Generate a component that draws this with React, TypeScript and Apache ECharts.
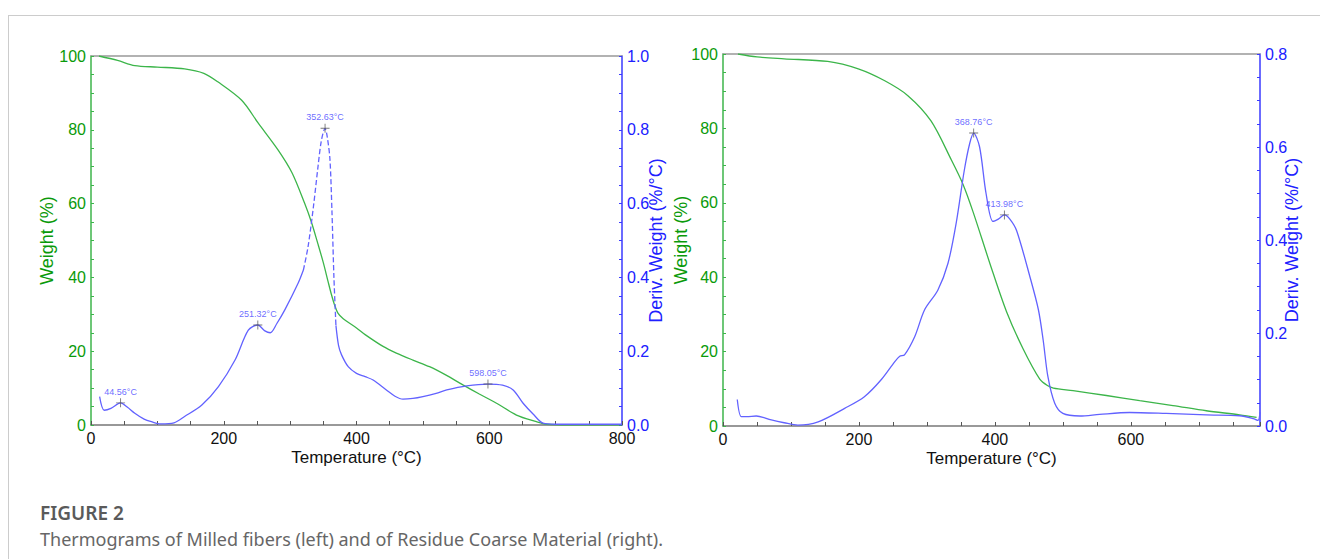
import React, { useEffect, useRef } from "react";
import * as echarts from "echarts";

// ---------- Left: Milled fibers ----------
const leftTempW = [12, 40, 66, 100, 141, 170, 191, 227, 252, 282, 303, 322, 332, 342, 350, 357, 362, 367, 372, 380, 400, 413, 440, 460, 485, 510, 535, 561, 585, 611, 641, 671, 686, 720, 800];
const leftWeight = [100, 98.8, 97.4, 97, 96.5, 95.3, 93, 88, 81.8, 74.5, 68.3, 60, 55, 49, 44, 39, 35.5, 32.5, 30.3, 28.8, 26.3, 24.5, 21.3, 19.5, 17.6, 15.8, 13.5, 10.8, 8.4, 5.9, 2.7, 0.9, 0.2, 0, 0];

const leftTempD = [13, 20, 30, 44.56, 55, 66, 80, 91, 105, 125, 141, 167, 192, 217, 237, 251.32, 262, 270, 280, 292, 312, 320, 327, 335, 342, 347, 352.63, 356, 360, 363, 366, 369, 373, 377.5, 387.5, 400, 413, 425, 445, 458, 470, 485, 500, 520, 536, 566, 598.05, 620, 636, 651, 666, 681, 700, 750, 800];
const leftDeriv = [0.077, 0.04, 0.045, 0.06, 0.048, 0.032, 0.016, 0.009, 0.003, 0.006, 0.023, 0.054, 0.104, 0.176, 0.257, 0.271, 0.255, 0.25, 0.275, 0.312, 0.384, 0.42, 0.483, 0.59, 0.70, 0.77, 0.804, 0.78, 0.72, 0.58, 0.40, 0.27, 0.215, 0.19, 0.158, 0.14, 0.131, 0.122, 0.095, 0.078, 0.07, 0.072, 0.077, 0.086, 0.095, 0.106, 0.111, 0.108, 0.095, 0.059, 0.03, 0.005, 0.002, 0.002, 0.002];

const leftPeakT = [44.56, 251.32, 352.63, 598.05];
const leftPeakD = [0.06, 0.271, 0.804, 0.111];

// ---------- Right: Residue Coarse Material ----------
const rightTempW = [22, 50, 90, 154, 199, 238, 272, 306, 336, 353, 368, 393, 417, 441.6, 466, 478, 486, 515, 564, 613, 662, 711, 760, 785];
const rightWeight = [100, 99.2, 98.7, 98, 96, 92.8, 88.8, 82, 71.5, 65, 57.5, 43.5, 30.8, 20.7, 12.6, 10.8, 10.2, 9.5, 8.2, 6.8, 5.5, 4.1, 3, 2.3];

const rightTempD = [21, 27, 35, 49, 71, 90, 110, 140, 179, 208, 233, 252.5, 260, 267, 282, 296.6, 316, 331, 343, 355, 363, 368.76, 377.5, 387, 397, 405, 413.98, 422, 432, 451.5, 464, 471, 478, 488, 500, 525, 554, 598, 652, 711, 760, 780, 787, 790];
const rightDeriv = [0.057, 0.02, 0.02, 0.0215, 0.013, 0.007, 0.002, 0.009, 0.038, 0.063, 0.10, 0.138, 0.15, 0.153, 0.192, 0.25, 0.292, 0.35, 0.436, 0.55, 0.608, 0.63, 0.60, 0.50, 0.44, 0.445, 0.454, 0.445, 0.42, 0.321, 0.25, 0.185, 0.106, 0.049, 0.027, 0.0215, 0.025, 0.029, 0.027, 0.024, 0.022, 0.016, 0.012, 0.03];

const rightPeakT = [368.76, 413.98];
const rightPeakD = [0.63, 0.454];

const xLabelStep = 200;
const weightLabelStep = 20;
const derivLabelStep = 0.2;

const captionTitle = "FIGURE 2";
const captionText = "Thermograms of Milled fibers (left) and of Residue Coarse Material (right).";

const GREEN_LINE = "#3cb54a";
const GREEN_TEXT = "#0a9a0a";
const BLUE_LINE = "#6262ff";
const BLUE_AXIS = "#3a3aff";
const BLUE_TEXT = "#2020ff";
const FONT = "Liberation Sans, Arial, sans-serif";

const CROSS = "path://M4.5,0 L5.5,0 L5.5,4.5 L10,4.5 L10,5.5 L5.5,5.5 L5.5,10 L4.5,10 L4.5,5.5 L0,5.5 L0,4.5 L4.5,4.5 Z";

const zip = (a: number[], b: number[]) => a.map((v, i) => [v, b[i]]);

function App() {
  const ref = useRef<HTMLDivElement>(null);
  useEffect(() => {
    if (!ref.current) return;
    const chart = echarts.init(ref.current, undefined, { renderer: "svg" });

    const grids = [
      { left: 91, top: 56, width: 531, height: 369 },
      { left: 723, top: 54, width: 537, height: 372 },
    ];

    const bottomX = (gi: number, max: number) => ({
      type: "value",
      gridIndex: gi,
      position: "bottom",
      min: 0,
      max,
      interval: 50,
      name: "Temperature (°C)",
      nameLocation: "middle",
      nameGap: 24,
      nameMoveOverlap: false,
      nameTextStyle: { color: "#111", fontSize: 17, fontFamily: FONT },
      axisLine: { show: true, onZero: false, lineStyle: { color: "#777", width: 1.5 } },
      axisTick: { show: true, inside: true, length: 4, lineStyle: { color: "#555" } },
      axisLabel: {
        color: "#111",
        fontSize: 16,
        fontFamily: FONT,
        margin: 5,
        formatter: (v: number) => (v % xLabelStep === 0 ? String(v) : ""),
      },
      splitLine: { show: false },
    });
    const topX = (gi: number, max: number) => ({
      type: "value",
      gridIndex: gi,
      position: "top",
      min: 0,
      max,
      axisLine: { show: true, onZero: false, lineStyle: { color: "#999", width: 1.5 } },
      axisTick: { show: false },
      axisLabel: { show: false },
      splitLine: { show: false },
    });
    const weightY = (gi: number, gap: number) => ({
      type: "value",
      gridIndex: gi,
      position: "left",
      min: 0,
      max: 100,
      interval: 5,
      name: "Weight (%)",
      nameLocation: "middle",
      nameRotate: 90,
      nameGap: gap,
      nameMoveOverlap: false,
      nameTextStyle: { color: GREEN_TEXT, fontSize: 18, fontFamily: FONT },
      axisLine: { show: true, onZero: false, lineStyle: { color: GREEN_LINE, width: 1.5 } },
      axisTick: { show: true, inside: true, length: 3, lineStyle: { color: GREEN_LINE } },
      axisLabel: {
        color: GREEN_TEXT,
        fontSize: 16,
        fontFamily: FONT,
        margin: 5,
        formatter: (v: number) => (v % weightLabelStep === 0 ? String(v) : ""),
      },
      splitLine: { show: false },
    });
    const derivY = (gi: number, max: number, gap: number) => ({
      type: "value",
      gridIndex: gi,
      position: "right",
      min: 0,
      max,
      interval: 0.05,
      name: "Deriv. Weight (%/°C)",
      nameLocation: "middle",
      nameRotate: 90,
      nameGap: gap,
      nameMoveOverlap: false,
      nameTextStyle: { color: BLUE_TEXT, fontSize: 18, fontFamily: FONT },
      axisLine: { show: true, onZero: false, lineStyle: { color: BLUE_AXIS, width: 1.5 } },
      axisTick: { show: true, inside: true, length: 3, lineStyle: { color: BLUE_AXIS } },
      axisLabel: {
        color: BLUE_TEXT,
        fontSize: 16,
        fontFamily: FONT,
        margin: 5,
        formatter: (v: number) => {
          const k = Math.round(v / 0.05);
          return k % Math.round(derivLabelStep / 0.05) === 0 ? v.toFixed(1) : "";
        },
      },
      splitLine: { show: false },
    });

    const line = (xi: number, yi: number, data: any[], color: string, type = "solid", z = 3) => ({
      type: "line",
      xAxisIndex: xi,
      yAxisIndex: yi,
      data,
      smooth: 0.3,
      showSymbol: false,
      connectNulls: false,
      z,
      lineStyle: { color, width: 1.3, type },
      itemStyle: { color },
    });

    const peaks = (xi: number, yi: number, t: number[], d: number[]) => ({
      type: "scatter",
      xAxisIndex: xi,
      yAxisIndex: yi,
      data: zip(t, d),
      symbol: CROSS,
      symbolSize: 9,
      z: 5,
      itemStyle: { color: "#555" },
      label: {
        show: true,
        position: "top",
        distance: 2,
        color: "#4646ff",
        fontSize: 9,
        fontFamily: FONT,
        formatter: (p: any) => `${p.value[0].toFixed(2)}°C`,
      },
    });

    // split left derivative into solid parts and a dashed peak part
    const DASH_FROM = 322;
    const DASH_TO = 368;
    const leftD = zip(leftTempD, leftDeriv);
    const leftSolid: any[] = [];
    leftD.forEach((p) => {
      if (p[0] <= DASH_FROM || p[0] >= DASH_TO) leftSolid.push(p);
      else if (leftSolid.length && leftSolid[leftSolid.length - 1][1] !== null) leftSolid.push([p[0], null]);
    });
    const leftDash = leftD.filter((p, i) => {
      const nxt = leftD[i + 1];
      const prv = leftD[i - 1];
      return (
        (p[0] > DASH_FROM && p[0] < DASH_TO) ||
        (nxt && nxt[0] > DASH_FROM && p[0] <= DASH_FROM) ||
        (prv && prv[0] < DASH_TO && p[0] >= DASH_TO)
      );
    });

    chart.setOption({
      animation: false,
      backgroundColor: "#ffffff",
      grid: grids,
      xAxis: [bottomX(0, 800), topX(0, 800), bottomX(1, 790), topX(1, 790)],
      yAxis: [weightY(0, 35), derivY(0, 1.0, 25), weightY(1, 33), derivY(1, 0.8, 23)],
      series: [
        line(0, 0, zip(leftTempW, leftWeight), GREEN_LINE),
        line(0, 1, leftSolid, BLUE_LINE),
        line(0, 1, leftDash, BLUE_LINE, "dashed"),
        peaks(0, 1, leftPeakT, leftPeakD),
        line(2, 2, zip(rightTempW, rightWeight), GREEN_LINE),
        line(2, 3, zip(rightTempD, rightDeriv), BLUE_LINE),
        peaks(2, 3, rightPeakT, rightPeakD),
      ],
      graphic: [
        { type: "line", shape: { x1: 8, y1: 15.5, x2: 1320, y2: 15.5 }, style: { stroke: "#cccccc", lineWidth: 1 } },
        { type: "line", shape: { x1: 8.5, y1: 15, x2: 8.5, y2: 559 }, style: { stroke: "#cccccc", lineWidth: 1 } },
        {
          type: "text",
          left: 40,
          top: 503,
          style: { text: captionTitle, fill: "#5a5a5a", font: "600 19px 'Noto Sans', 'Open Sans', sans-serif" },
        },
        {
          type: "text",
          left: 40,
          top: 530,
          style: { text: captionText, fill: "#666", font: "18px 'Noto Sans', 'Open Sans', sans-serif" },
        },
      ],
    });
    return () => chart.dispose();
  }, []);
  return <div ref={ref} style={{ position: "fixed", left: 0, top: 0, width: 1320, height: 559 }} />;
}

export default App;
